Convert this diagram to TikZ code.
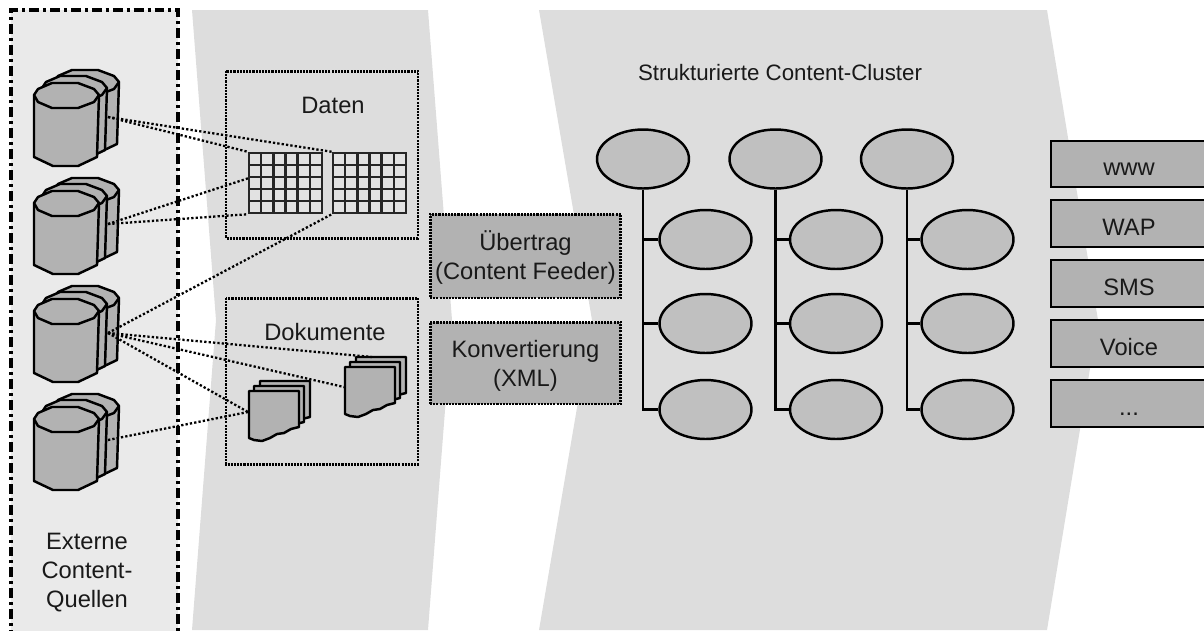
\documentclass[tikz,border=0pt]{standalone}
\usepackage{fontspec}
\setmainfont{Liberation Sans}
\usetikzlibrary{shapes.geometric}
\definecolor{panelL}{RGB}{234,234,234}
\definecolor{panelD}{RGB}{221,221,221}
\definecolor{cylG}{RGB}{178,178,178}
\definecolor{ellG}{RGB}{192,192,192}
\definecolor{cellG}{RGB}{226,226,226}
\tikzset{
    lbl/.style={font=\fontsize{13.5}{16.5}\selectfont,align=center,inner sep=0pt,text=black!90},
    outline/.style={draw=black,line width=1.4pt,line join=round},
    dotbox/.style={draw=black,line width=1.7pt,dash pattern=on 1.2pt off 0.6pt},
    link/.style={draw=black,line width=1.3pt,dash pattern=on 1.3pt off 1.2pt},
    feedbox/.style={lbl,rectangle,dotbox,fill=cylG,minimum width=3.82cm},
    listbox/.style={lbl,rectangle,draw=black,line width=1.1pt,fill=cylG,minimum width=3.12cm,minimum height=0.93cm,text height=13.5pt,text depth=0pt},
    mainell/.style={ellipse,outline,fill=ellG,minimum width=1.84cm,minimum height=1.18cm,inner sep=0pt},
    gridbox/.style={rectangle,draw=black!85,line width=1.4pt,fill=cellG,minimum width=1.46cm,minimum height=1.2cm,inner sep=0pt},
    stem/.style={draw=black,line width=1.4pt}
}
% one cylinder of a stack
\newcommand{\dbcyl}[2]{
    \begin{scope}[shift={(#1,#2)}]
        \draw[outline,fill=cylG] (34,95) -- (34,157) -- (53,166) -- (78,166) -- (97,157) -- (99,95)
            -- (94,89) -- (78,83) -- (52,83) -- (38,89) -- cycle;
        \draw[outline] (34,95) -- (38,102) -- (52,108) -- (78,108) -- (94,102) -- (99,95);
    \end{scope}
}
\newcommand{\dbstack}[1]{
    \begin{scope}[shift={(0,#1)}]
        \dbcyl{20}{-13}
        \dbcyl{8}{-7}
        \dbcyl{0}{0}
    \end{scope}
}
\newcommand{\docsheet}[2]{
    \draw[outline,fill=cylG,shift={(#1,#2)}] (249,391) -- (299,391) -- (299,427) -- (291,429) -- (284,433)
        -- (277,434) -- (270,438) -- (262,441) -- (254,440) -- (249,438) -- cycle;
}
\newcommand{\docstack}[2]{
    \begin{scope}[shift={(#1,#2)}]
        \docsheet{11}{-10}
        \docsheet{5}{-5}
        \docsheet{0}{0}
    \end{scope}
}
\newcommand{\cellgrid}[1]{
    \begin{scope}[shift={(#1,153)}]
        \foreach \gx in {12.2,24.3,36.5,48.7,60.8} {\draw[black!85,line width=1.4pt] (\gx,0) -- (\gx,60);}
        \foreach \gy in {12,24,36,48} {\draw[black!85,line width=1.4pt] (0,\gy) -- (73,\gy);}
    \end{scope}
}
\begin{document}
\begin{tikzpicture}[x=0.02cm,y=-0.02cm]
        \useasboundingbox (0,0) rectangle (1204,630);
        \clip (0,0) rectangle (1204,630);
        % panels
        \fill[panelL] (11,10) rectangle (178,640);
        \draw[black,line width=1.9pt,dash pattern=on 5.6pt off 2.3pt on 1.7pt off 2.3pt] (11,640) -- (11,10) -- (178,10) -- (178,640);
        \fill[panelD] (192,10) -- (428,10) -- (452,320) -- (428,630) -- (192,630) -- (216,320) -- cycle;
        \fill[panelD] (539,10) -- (1047,10) -- (1098,320) -- (1047,630) -- (539,630) -- (592,320) -- cycle;
        % sources
        \dbstack{0}
        \dbstack{108}
        \dbstack{216}
        \dbstack{324}
        \coordinate (srcA) at (108,117);
        \coordinate (srcB) at (108,224);
        \coordinate (srcC) at (108,333);
        \coordinate (srcD) at (108,440);
        \node[lbl] (quellen) at (87,573) {Externe\\Content-\\Quellen};
        % data
        \draw[dotbox] (226,71) rectangle (418,238);
        \node[lbl] (daten) at (333,105) {Daten};
        \node[gridbox] (gridA) at (285.5,183) {};
        \node[gridbox] (gridB) at (369.5,183) {};
        \cellgrid{249}
        \cellgrid{333}
        \coordinate (gridAin) at (249,178);
        % documents
        \draw[dotbox] (226,298) rectangle (418,464);
        \node[lbl] (dokumente) at (325,332) {Dokumente};
        \docstack{0}{0}
        \docstack{96}{-24}
        \coordinate (docA) at (248,412);
        \coordinate (docB) at (344,387);
        \coordinate (docC) at (372,357);
        % links
        \draw[link] (srcA) -- (gridA.north west);
        \draw[link] (srcA) -- (gridB.north west);
        \draw[link] (srcB) -- (gridAin);
        \draw[link] (srcB) -- (gridA.south west);
        \draw[link] (srcC) -- (gridB.south west);
        \draw[link] (srcC) -- (docC);
        \draw[link] (srcC) -- (docB);
        \draw[link] (srcC) -- (docA);
        \draw[link] (srcD) -- (docA);
        % middle boxes
        \node[feedbox,minimum height=1.68cm] (feeder) at (525.5,256) {\rule{0pt}{12.5pt}Übertrag\\(Content Feeder)};
        \node[feedbox,minimum height=1.64cm] (xml) at (525.5,363) {\rule{0pt}{12.5pt}Konvertierung\\(XML)};
        % clusters
        \node[lbl,font=\fontsize{12.7}{16}\selectfont] (cluster) at (780,73) {Strukturierte Content-Cluster};
        \node[mainell] (topA) at (643,159) {};
        \node[mainell] (topB) at (775.5,159) {};
        \node[mainell] (topC) at (907,159) {};
        \node[mainell] (subA1) at (705.5,239.5) {};
        \node[mainell] (subA2) at (705.5,323.5) {};
        \node[mainell] (subA3) at (705.5,409.5) {};
        \node[mainell] (subB1) at (836,239.5) {};
        \node[mainell] (subB2) at (836,323.5) {};
        \node[mainell] (subB3) at (836,409.5) {};
        \node[mainell] (subC1) at (967.5,239.5) {};
        \node[mainell] (subC2) at (967.5,323.5) {};
        \node[mainell] (subC3) at (967.5,409.5) {};
        \draw[stem] (topA.south) -- (topA.south |- subA3.west) -- (subA3.west);
        \draw[stem] (topA.south |- subA1.west) -- (subA1.west);
        \draw[stem] (topA.south |- subA2.west) -- (subA2.west);
        \draw[stem] (topB.south) -- (topB.south |- subB3.west) -- (subB3.west);
        \draw[stem] (topB.south |- subB1.west) -- (subB1.west);
        \draw[stem] (topB.south |- subB2.west) -- (subB2.west);
        \draw[stem] (topC.south) -- (topC.south |- subC3.west) -- (subC3.west);
        \draw[stem] (topC.south |- subC1.west) -- (subC1.west);
        \draw[stem] (topC.south |- subC2.west) -- (subC2.west);
        % channels
        \node[listbox] (www) at (1129,164) {www};
        \node[listbox] (wap) at (1129,223.5) {WAP};
        \node[listbox] (sms) at (1129,283.5) {SMS};
        \node[listbox] (voice) at (1129,343.5) {Voice};
        \node[listbox] (more) at (1129,403.5) {...};
    \end{tikzpicture}
\end{document}
